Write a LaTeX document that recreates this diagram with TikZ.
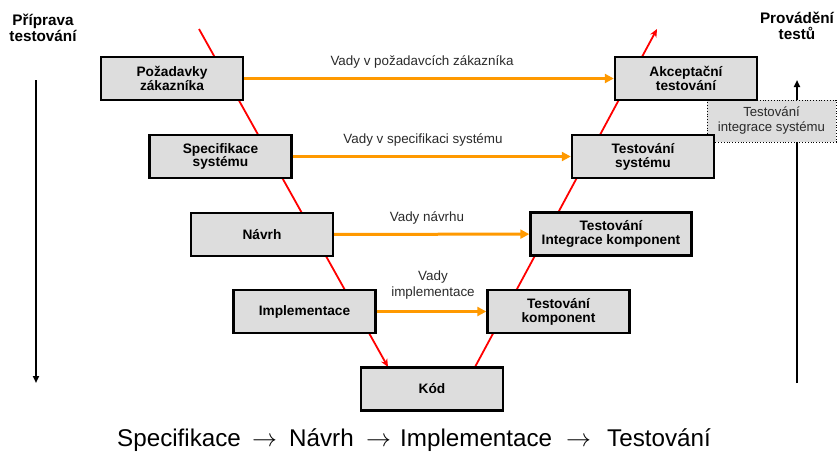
\documentclass[tikz,border=0pt]{standalone}
\usepackage{fontspec}
\setmainfont{Liberation Sans}
\usetikzlibrary{arrows.meta,calc}
\definecolor{boxgray}{HTML}{DDDDDD}
\definecolor{vorange}{HTML}{FF9900}
\definecolor{vred}{HTML}{FF0000}
\definecolor{labgray}{HTML}{2A2A2A}
\begin{document}
\begin{tikzpicture}[x=1pt,y=-1pt,
  vbox/.style={draw=black,line width=2.4pt,fill=boxgray,minimum width=142pt,minimum height=43pt,
    inner sep=0pt,align=center,font=\bfseries\fontsize{13.7}{13.9}\selectfont},
  defect/.style={draw=vorange,line width=3pt,-{Triangle[length=9pt,width=9pt]}},
  vleg/.style={draw=vred,line width=1.8pt},
  deflabel/.style={font=\fontsize{13.4}{16}\selectfont,text=labgray,align=center,inner sep=0pt},
  title/.style={font=\bfseries\fontsize{15.3}{16}\selectfont,align=center,inner sep=0pt},
  side/.style={draw=black,line width=1.8pt,-{Triangle[length=7pt,width=6pt]}},
  bottomtext/.style={inner sep=0pt,anchor=base west,font=\fontsize{24.2}{28}\selectfont}]
\useasboundingbox (0,0) rectangle (837,452);
% side arrows
\coordinate (la1) at (36,80);
\coordinate (la2) at (36,383);
\draw[side] (la1) -- (la2);
\coordinate (ra1) at (797,383);
\coordinate (ra2) at (797,80);
\draw[side] (ra1) -- (ra2);
% gray dotted box
\node[draw=black,dotted,line width=0.8pt,fill=boxgray,minimum width=129pt,minimum height=42pt,inner sep=0pt,
  align=center,font=\fontsize{13.2}{15}\selectfont,text=labgray] (gi) at (771.5,121) {Testování\\integrace systému};
% titles
\node[title] (tl) at (43,28) {Příprava\\testování};
\node[title] (tr) at (797,26) {Provádění\\testů};
% V legs (behind boxes)
\coordinate (ls) at (199,29);
\coordinate (re) at (657,29);
\coordinate (kl) at (388,367);
\coordinate (kr) at (475,367);
\draw[vleg,-{Stealth[length=8pt,width=7pt]}] (ls) -- (kl);
\draw[vleg,-{Stealth[length=8pt,width=7pt]}] (kr) -- (re);
% boxes
\node[vbox] (poz) at (172,78.5) {Požadavky\\zákazníka};
\node[vbox] (spec) at (220.5,156.5) {Specifikace\\systému};
\node[vbox] (navrh) at (262,234.5) {Návrh};
\node[vbox] (impl) at (304.5,311.5) {Implementace};
\node[vbox] (kod) at (432,389) {Kód};
\node[vbox] (tkomp) at (558.5,311.5) {Testování\\komponent};
\node[vbox,minimum width=161pt] (tint) at (611,234) {Testování\\Integrace komponent};
\node[vbox] (tsys) at (643,156.5) {Testování\\systému};
\node[vbox] (akc) at (686,78.5) {Akceptační\\testování};
% defect arrows
\draw[defect] (poz) -- (akc);
\draw[defect] (spec) -- (tsys);
\draw[defect] (navrh) -- (tint);
\draw[defect] (impl) -- (tkomp);
\node[deflabel] (l1) at (422,62) {Vady v požadavcích zákazníka};
\node[deflabel] (l2) at (423,140) {Vady v specifikaci systému};
\node[deflabel] (l3) at (427,218) {Vady návrhu};
\node[deflabel] (l4) at (433,285) {Vady\\implementace};
% bottom line
\node[bottomtext] (b1) at (117,446) {Specifikace};
\node[bottomtext] (a1) at (252,446) {$\rightarrow$};
\node[bottomtext] (b2) at (289,446) {Návrh};
\node[bottomtext] (a2) at (366,446) {$\rightarrow$};
\node[bottomtext] (b3) at (400,446) {Implementace};
\node[bottomtext] (a3) at (566,446) {$\rightarrow$};
\node[bottomtext] (b4) at (607,446) {Testování};
\end{tikzpicture}
\end{document}
